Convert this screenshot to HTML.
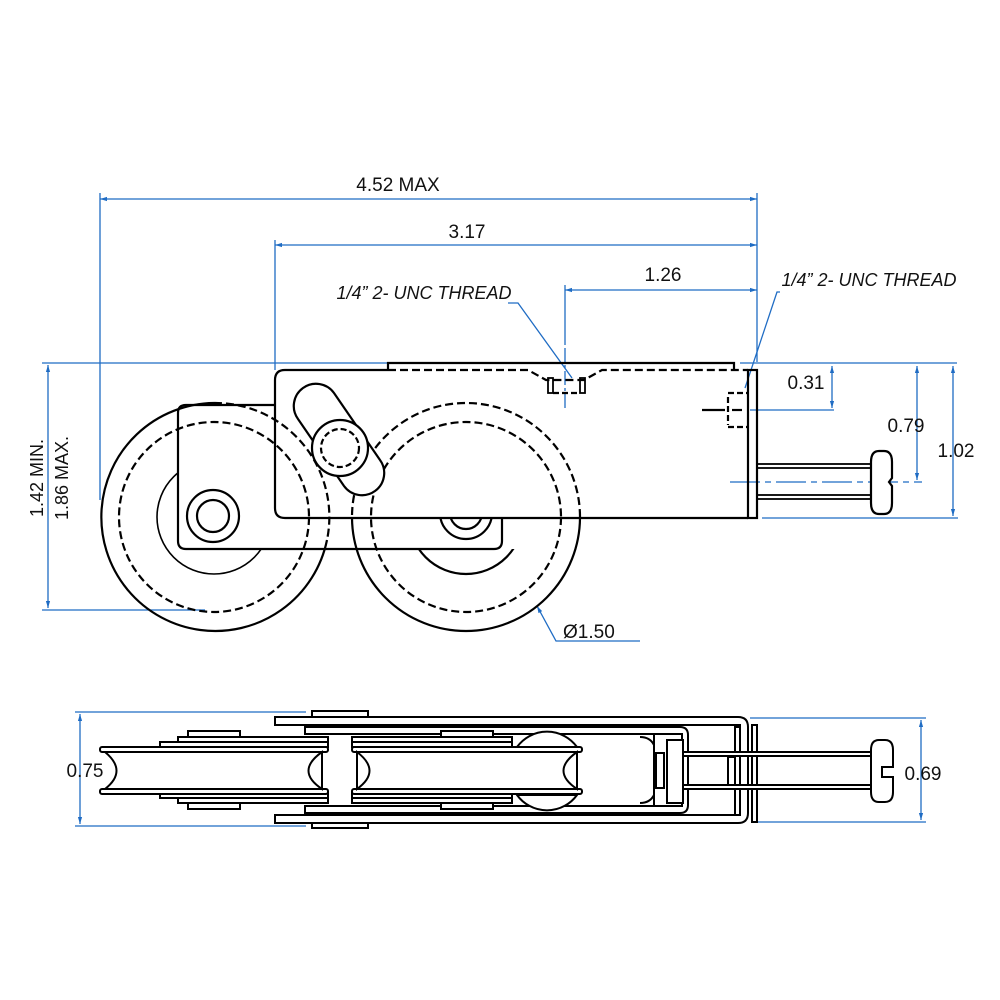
<!DOCTYPE html>
<html><head><meta charset="utf-8"><style>
html,body{margin:0;padding:0;background:#fff}
svg{display:block}
text{font-family:"Liberation Sans",sans-serif;fill:#111}
</style></head><body>
<svg width="1000" height="1000" viewBox="0 0 1000 1000" xmlns="http://www.w3.org/2000/svg">
<defs>
<marker id="ar" viewBox="0 0 10 10" refX="10" refY="5" markerWidth="9" markerHeight="7" orient="auto-start-reverse" markerUnits="userSpaceOnUse"><path d="M0,2 L10,5 L0,8 z" fill="#1f6cc4"/></marker>
<clipPath id="below518"><rect x="0" y="518" width="1000" height="500"/></clipPath>
<clipPath id="above518"><rect x="0" y="0" width="1000" height="518"/></clipPath>
<clipPath id="below549"><rect x="0" y="549" width="1000" height="500"/></clipPath>
<clipPath id="hubL"><path d="M0,0H178V549H0Z M0,549H1000V1000H0Z"/></clipPath>
<clipPath id="axR"><rect x="400" y="519" width="200" height="30"/></clipPath>
</defs>

<!-- ============ BLUE DIMENSIONS TOP ============ -->
<g stroke="#1f6cc4" stroke-width="1.3" fill="none">
<line x1="100" y1="193" x2="100" y2="500"/>
<line x1="757" y1="193" x2="757" y2="362"/>
<line x1="100" y1="199" x2="757" y2="199" marker-start="url(#ar)" marker-end="url(#ar)"/>
<line x1="275" y1="240" x2="275" y2="370"/>
<line x1="275" y1="245" x2="757" y2="245" marker-start="url(#ar)" marker-end="url(#ar)"/>
<line x1="565" y1="285" x2="565" y2="345"/>
<line x1="565" y1="290" x2="757" y2="290" marker-start="url(#ar)" marker-end="url(#ar)"/>
<line x1="565" y1="348" x2="565" y2="408" stroke-dasharray="14,3,3,3"/>
<polyline points="508,303 518,303 572,378"/>
<polyline points="780,292 777,292 745,388"/>
<line x1="740" y1="363" x2="957" y2="363"/>
<line x1="750" y1="410" x2="834" y2="410"/>
<line x1="832" y1="366" x2="832" y2="408" marker-start="url(#ar)" marker-end="url(#ar)"/>
<line x1="917" y1="366" x2="917" y2="480" marker-start="url(#ar)" marker-end="url(#ar)"/>
<line x1="730" y1="482" x2="922" y2="482" stroke-dasharray="30,5,6,5"/>
<line x1="762" y1="518" x2="958" y2="518"/>
<line x1="953" y1="366" x2="953" y2="516" marker-start="url(#ar)" marker-end="url(#ar)"/>
<line x1="42" y1="363" x2="388" y2="363"/>
<line x1="42" y1="610" x2="205" y2="610"/>
<line x1="48" y1="365" x2="48" y2="608" marker-start="url(#ar)" marker-end="url(#ar)"/>
<polyline points="537,606 556,641 640,641" marker-start="url(#ar)"/>
</g>
<g font-size="19">
<text x="398" y="191" text-anchor="middle">4.52 MAX</text>
<text x="467" y="238" text-anchor="middle">3.17</text>
<text x="663" y="281" text-anchor="middle">1.26</text>
<text x="424" y="299" text-anchor="middle" font-style="italic" font-size="18">1/4” 2- UNC THREAD</text>
<text x="869" y="286" text-anchor="middle" font-style="italic" font-size="18">1/4” 2- UNC THREAD</text>
<text x="806" y="389" text-anchor="middle">0.31</text>
<text x="906" y="432" text-anchor="middle">0.79</text>
<text x="956" y="457" text-anchor="middle">1.02</text>
<text x="563" y="638">Ø1.50</text>
<text transform="translate(43,478) rotate(-90)" text-anchor="middle" font-size="18">1.42 MIN.</text>
<text transform="translate(68,478) rotate(-90)" text-anchor="middle" font-size="18">1.86 MAX.</text>
</g>

<!-- ============ TOP VIEW PART ============ -->
<g stroke="#000" stroke-width="2.2" fill="none">
<!-- bracket & housing outlines (no fill) -->
<path d="M275,405 H186 Q178,405 178,413 V541 Q178,549 186,549 H494 Q502,549 502,541 V519"/>
<path d="M388,370 H285 Q275,370 275,380 V508 Q275,518 285,518 H748"/>
<!-- left wheel -->
<path d="M214,403 A114,114 0 1,0 327,540"/>
<path d="M214,403 A114,114 0 0,1 327,540" stroke-dasharray="8,4"/>
<circle cx="214" cy="517" r="95" stroke-dasharray="8,4"/>
<circle cx="214" cy="517" r="57" stroke-width="1.6" clip-path="url(#hubL)"/>
<!-- right wheel -->
<circle cx="466" cy="517" r="114" clip-path="url(#below518)"/>
<circle cx="466" cy="517" r="114" stroke-dasharray="8,4" clip-path="url(#above518)"/>
<circle cx="466" cy="517" r="95" stroke-dasharray="8,4"/>
<circle cx="466" cy="517" r="57" clip-path="url(#below549)"/>
<g clip-path="url(#axR)"><circle cx="466" cy="513" r="26"/><circle cx="466" cy="513" r="16"/></g>
<circle cx="213" cy="516" r="26" fill="#fff"/>
<circle cx="213" cy="516" r="16"/>
<path d="M388,370 H528 L546,380 H584 L602,370 H748" stroke-dasharray="8,4"/>
<polyline points="388,370 388,363 734,363 734,370"/>
<rect x="748" y="370" width="9" height="148"/>
<!-- thread hole -->
<rect x="548" y="378" width="5" height="15" stroke-width="1.8"/>
<rect x="580" y="378" width="5" height="15" stroke-width="1.8"/>
<line x1="553" y1="393" x2="580" y2="393" stroke-dasharray="6,3"/>
<!-- side hole -->
<line x1="728" y1="393" x2="748" y2="393" stroke-dasharray="6,3"/>
<line x1="728" y1="427" x2="748" y2="427" stroke-dasharray="6,3"/>
<line x1="728" y1="397" x2="728" y2="425" stroke-dasharray="6,3"/>
<line x1="702" y1="410" x2="725" y2="410"/>
<line x1="732" y1="410" x2="742" y2="410"/>
<!-- slot & pin -->
<path d="M298,419 A22,22 0 0,1 334,393 L380,460 A22,22 0 0,1 344,486 Z" fill="#fff"/>
<circle cx="340" cy="448" r="28" fill="#fff"/>
<circle cx="340" cy="448" r="19" stroke-dasharray="6,3"/>
<!-- screw -->
<rect x="757" y="464" width="114" height="4" stroke-width="1.8"/>
<rect x="757" y="495" width="114" height="4" stroke-width="1.8"/>
<path d="M879,451 H884 Q892,451 892,462 V478 L889,482 L892,486 V503 Q892,514 884,514 H879 Q871,514 871,503 V462 Q871,451 879,451 Z" fill="#fff"/>
</g>

<!-- ============ BOTTOM VIEW ============ -->
<g stroke="#1f6cc4" stroke-width="1.3" fill="none">
<line x1="75" y1="712" x2="306" y2="712"/>
<line x1="75" y1="826" x2="306" y2="826"/>
<line x1="80" y1="714" x2="80" y2="824" marker-start="url(#ar)" marker-end="url(#ar)"/>
<line x1="750" y1="718" x2="926" y2="718"/>
<line x1="758" y1="822" x2="926" y2="822"/>
<line x1="921" y1="720" x2="921" y2="820" marker-start="url(#ar)" marker-end="url(#ar)"/>
</g>
<g font-size="19">
<text x="85" y="777" text-anchor="middle">0.75</text>
<text x="923" y="780" text-anchor="middle">0.69</text>
</g>
<g stroke="#000" stroke-width="2" fill="#fff">
<path d="M275,717 H738 Q748,717 748,727 V813 Q748,823 738,823 H275 V815 H740 V725 H275 Z"/>
<rect x="752" y="725" width="5" height="97"/>
<rect x="735" y="727" width="5" height="88"/>
<rect x="312" y="711" width="56" height="6"/>
<rect x="312" y="823" width="56" height="5"/>
<path d="M305,727 H680 Q688,727 688,735 V805 Q688,813 680,813 H305 V806 H682 V734 H305 Z"/>
<rect x="178" y="737" width="150" height="5"/>
<rect x="160" y="742" width="168" height="5"/>
<rect x="178" y="798" width="150" height="5"/>
<rect x="160" y="793" width="168" height="5"/>
<rect x="188" y="731" width="52" height="6"/>
<rect x="188" y="803" width="52" height="6"/>
<rect x="352" y="737" width="160" height="5"/>
<rect x="352" y="742" width="160" height="5"/>
<rect x="352" y="798" width="160" height="5"/>
<rect x="352" y="793" width="160" height="5"/>
<rect x="441" y="731" width="52" height="6"/>
<rect x="441" y="803" width="52" height="6"/>
<path d="M517,747 A37,37 0 0,1 577,747 Z"/>
<path d="M517,795 A37,37 0 0,0 577,795 Z"/>
<rect x="100" y="747" width="228" height="5" rx="2"/>
<rect x="100" y="789" width="228" height="5" rx="2"/>
<path d="M105,752 Q128,771 105,789" fill="none"/>
<path d="M322,752 Q295,771 322,789 Z"/>
<rect x="352" y="747" width="230" height="5" rx="2"/>
<rect x="352" y="789" width="230" height="5" rx="2"/>
<path d="M357,752 Q382,771 357,789 Z"/>
<path d="M577,752 Q550,771 577,789 Z"/>
<line x1="654" y1="734" x2="654" y2="806"/>
<path d="M640,737 Q650,737 654,745" fill="none"/>
<path d="M640,803 Q650,803 654,795" fill="none"/>
<rect x="683" y="752" width="188" height="4"/>
<rect x="683" y="785" width="188" height="4"/>
<rect x="728" y="757" width="7" height="28"/>
<rect x="656" y="753" width="8" height="35"/>
<rect x="667" y="740" width="16" height="63"/>
<path d="M879,740 H885 Q893,740 893,750 V767 H882 V777 H893 V792 Q893,802 885,802 H879 Q871,802 871,792 V750 Q871,740 879,740 Z"/>
</g>
</svg>
</body></html>
